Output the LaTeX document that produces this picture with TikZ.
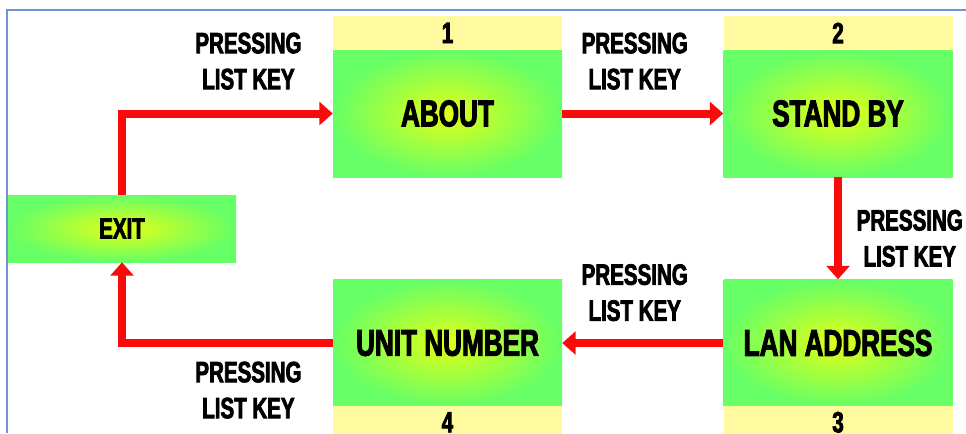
\documentclass[tikz,border=0pt]{standalone}
\usepackage{fontspec}
\newfontfamily\heavyfont{Liberation Sans}[FakeStretch=0.7,FakeBold=2.6]
\usetikzlibrary{positioning,arrows.meta}
\definecolor{boxcore}{RGB}{226,255,22}
\definecolor{boxedge}{RGB}{102,255,102}
\definecolor{strip}{RGB}{255,250,160}
\definecolor{arrowred}{RGB}{250,10,10}
\definecolor{framecol}{RGB}{110,150,215}
\tikzset{
	every node/.style = {inner sep = 0, text=black},
	every text node part/.style={align=center},
	>={Triangle[length=10pt,width=17pt]},
	statebox/.style={minimum width=171.75pt, minimum height=95.25pt,
		inner color=boxcore, outer color=boxedge,
		font=\heavyfont\bfseries\fontsize{28}{32}\selectfont},
	numstrip/.style={fill=strip, minimum width=171.75pt, minimum height=24.75pt,
		font=\heavyfont\bfseries\fontsize{22}{26}\selectfont},
	keylabel/.style={font=\heavyfont\bfseries\fontsize{22}{27}\selectfont},
	flow/.style={draw=arrowred, line width=6pt, ->}
}
\begin{document}
\begin{tikzpicture}[x=0.75pt,y=-0.75pt]
	\useasboundingbox (0,0) rectangle (966,433);
	
	\node(about)[statebox] at (447.5,113.5) {ABOUT};
	\node(standby)[statebox, right=120.75pt of about] {STAND BY};
	\node(lan)[statebox, below=76.5pt of standby] {LAN ADDRESS};
	\node(unit)[statebox, left=120.75pt of lan] {UNIT NUMBER};
	\node(exit)[statebox, minimum width=171pt, minimum height=50.25pt,
		font=\heavyfont\bfseries\fontsize{22}{26}\selectfont] at (122,228.5) {EXIT};
	
	\node[numstrip, above=0pt of about] {1};
	\node[numstrip, above=0pt of standby] {2};
	\node[numstrip, below=0pt of lan, yshift=1pt] {3};
	\node[numstrip, below=0pt of unit, yshift=1pt] {4};
	
	\draw[flow] (exit.north) |- node[keylabel, pos=0.8, above=15pt]{PRESSING\\LIST KEY} (about.west);
	\draw[flow] (about) -- node[keylabel, pos=0.45, above=15pt]{PRESSING\\LIST KEY} (standby);
	\draw[flow] (standby) -- node[keylabel, right=11pt, yshift=-7.5pt]{PRESSING\\LIST KEY} (lan);
	\draw[flow] (lan) -- node[keylabel, pos=0.55, above=13.5pt]{PRESSING\\LIST KEY} (unit);
	\draw[flow] (unit.west) -| node[keylabel, pos=0.2, below=11pt]{PRESSING\\LIST KEY} (exit.south);
	
	% thin frame on the top and left edges
	\draw[framecol, line width=1pt] (7,433) -- (7,10) -- (966,10);
\end{tikzpicture}
\end{document}
